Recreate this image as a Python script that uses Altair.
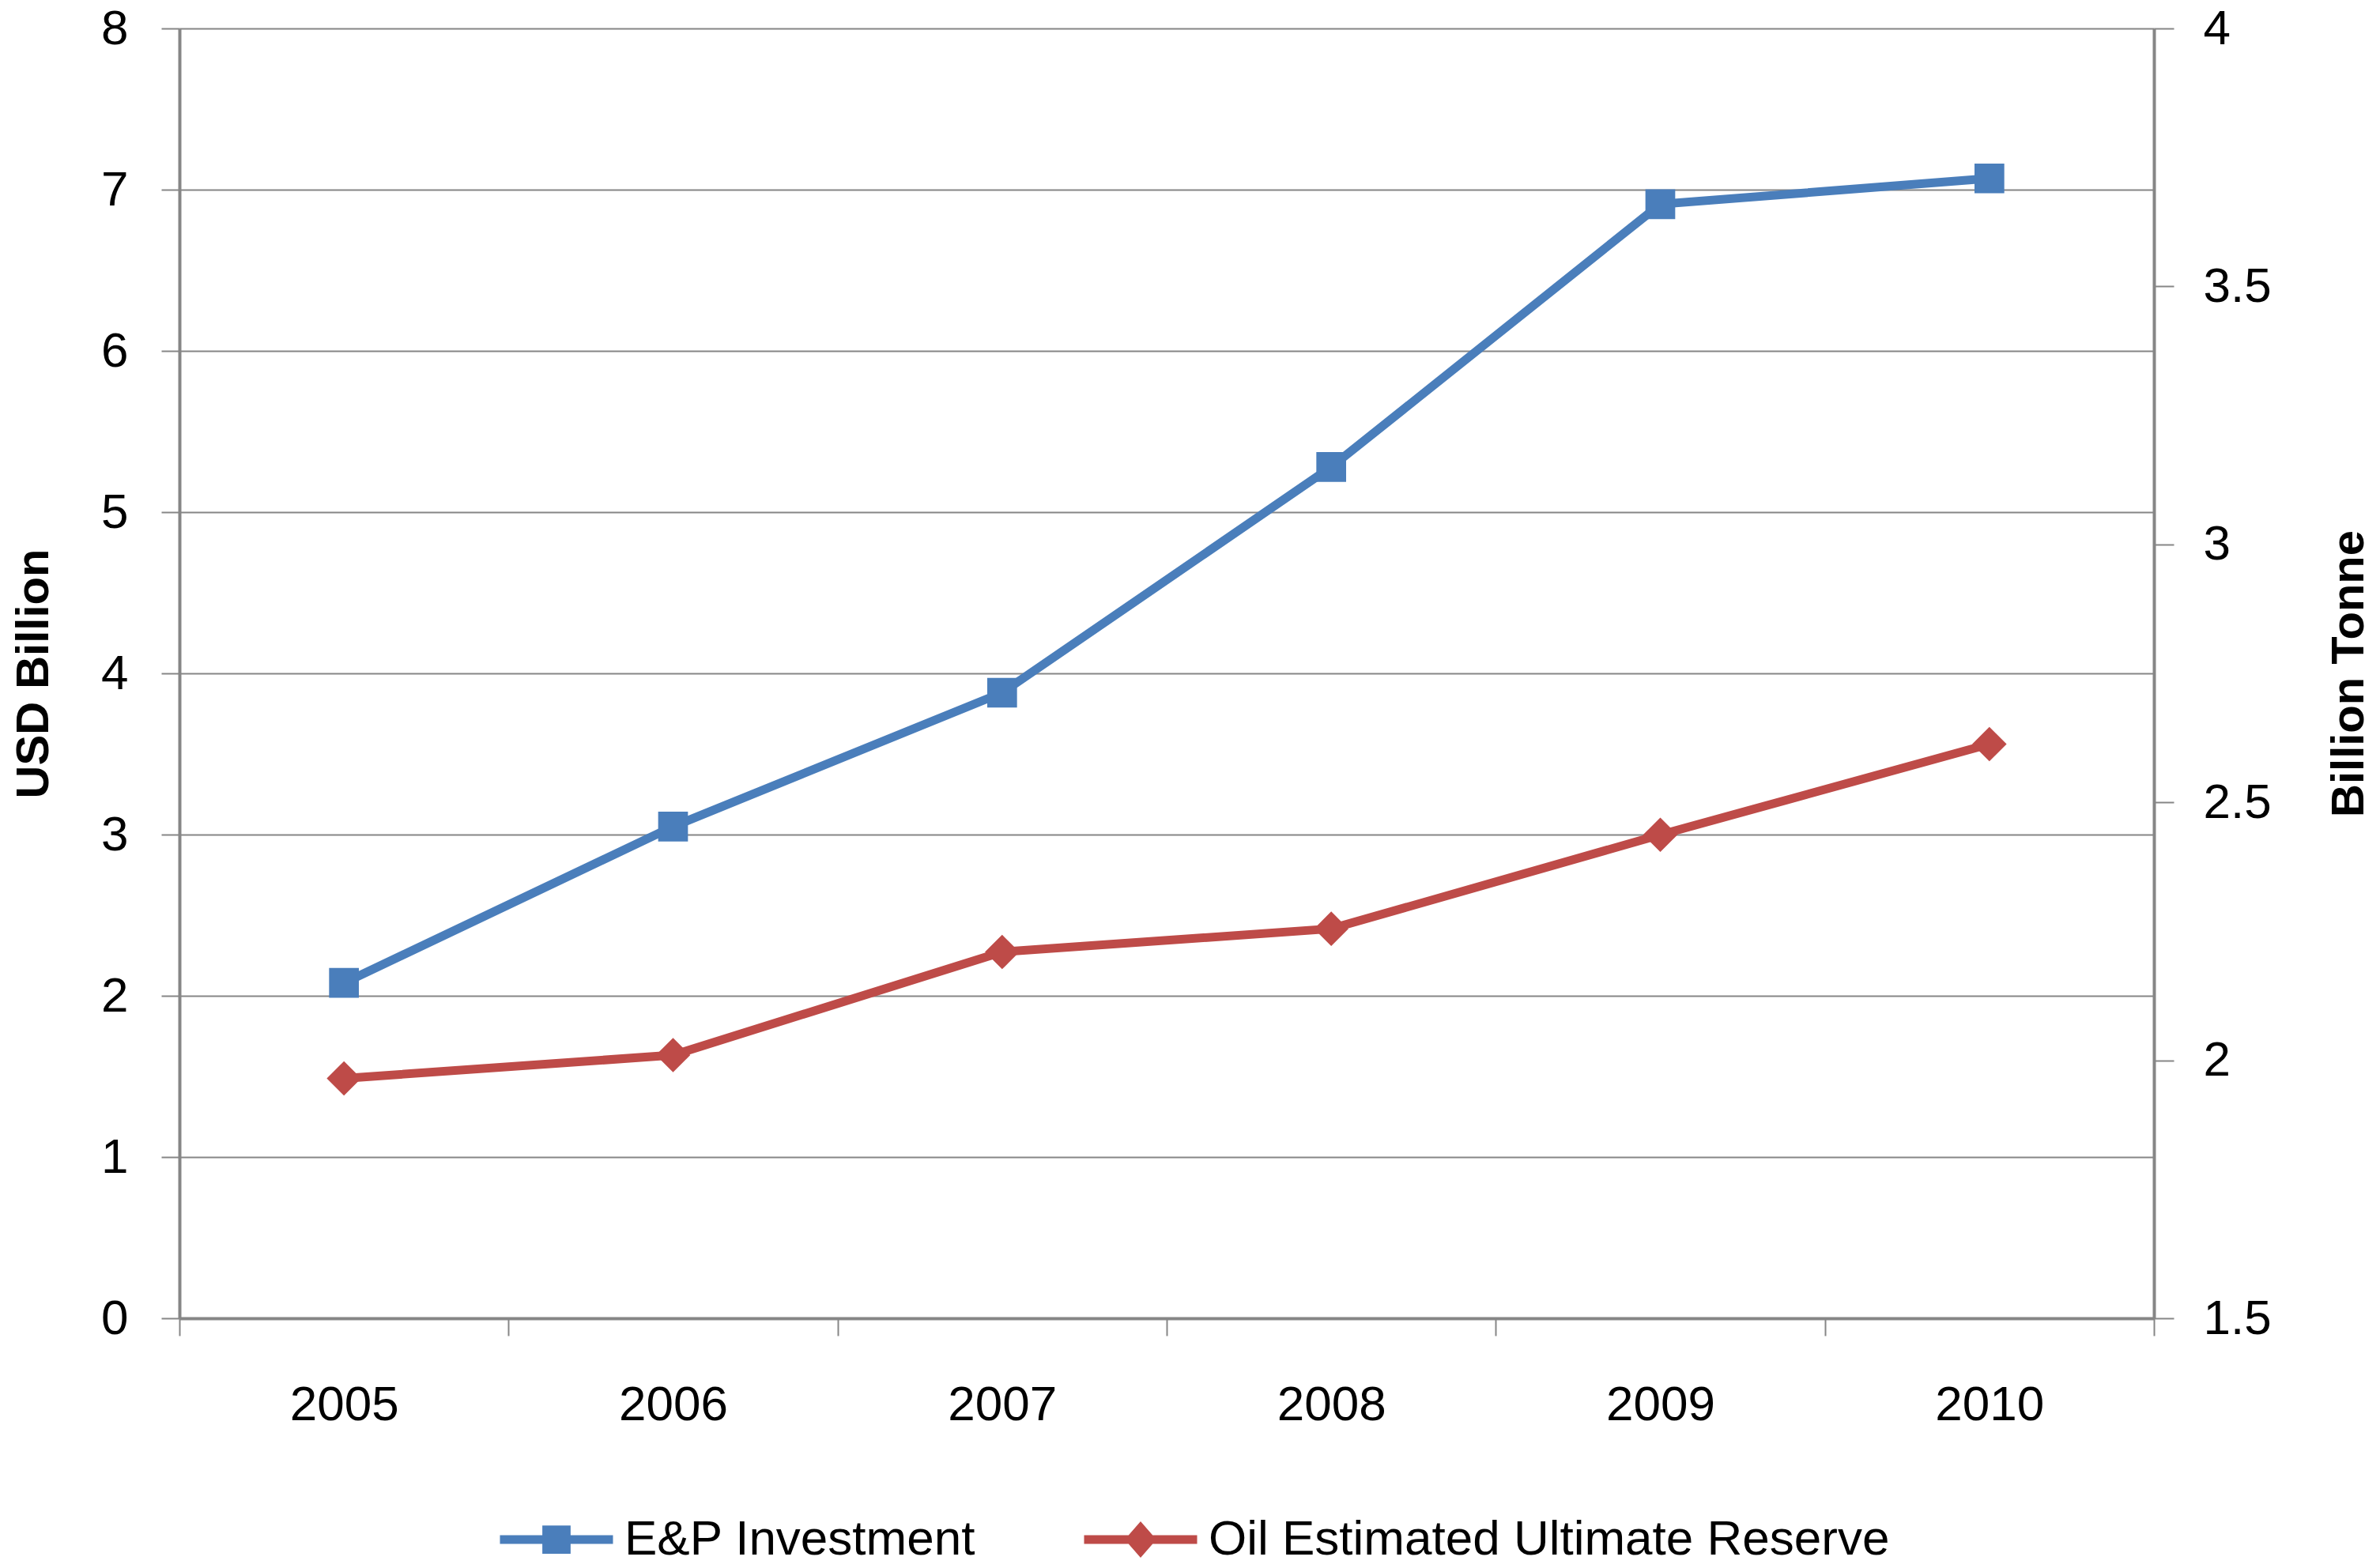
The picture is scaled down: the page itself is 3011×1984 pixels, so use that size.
import altair as alt
import pandas as pd

years = ["2005", "2006", "2007", "2008", "2009", "2010"]
investment = [2.08, 3.05, 3.88, 5.28, 6.91, 7.07]
reserve = [1.965, 2.01, 2.21, 2.255, 2.437, 2.613]
series = ["E&P Investment", "Oil Estimated Ultimate Reserve"]

left_ticks = [0, 1, 2, 3, 4, 5, 6, 7, 8]
right_ticks = [1.5, 2, 2.5, 3, 3.5, 4]

df = pd.DataFrame({"year": years, "investment": investment, "reserve": reserve})
legend_df = pd.DataFrame({"series": series})

BLUE = "#4A7EBB"
RED = "#BE4B48"
GRAY = "#868686"
FONT = "Liberation Sans"

blue_path = "M-1,-0.077H1V0.077H-1Z M-0.25,-0.25H0.25V0.25H-0.25Z"
red_path = "M-1,-0.077H1V0.077H-1Z M-0.28,0L0,-0.32L0.28,0L0,0.32Z"

x_enc = alt.X(
    "year:O",
    title=None,
    bandPosition=0.5,
    scale=alt.Scale(type="band", paddingInner=0, paddingOuter=0),
    axis=alt.Axis(
        tickBand="extent", labelAngle=0, tickSize=22, tickWidth=2, tickColor=GRAY,
        domainColor=GRAY, domainWidth=4, labelFontSize=62, labelPadding=57,
        labelFont=FONT, labelColor="black", grid=False,
    ),
)

blue = alt.Chart(df).mark_line(
    color=BLUE, strokeWidth=11,
    point=alt.OverlayMarkDef(shape="square", size=1420, filled=True, color=BLUE, opacity=1),
).encode(
    x=x_enc,
    y=alt.Y(
        "investment:Q",
        scale=alt.Scale(domain=[0, 8], nice=False),
        axis=alt.Axis(
            orient="left", values=left_ticks, grid=True, gridColor=GRAY, gridWidth=2,
            tickColor=GRAY, tickWidth=2, tickSize=23, domainColor=GRAY, domainWidth=4,
            labelFontSize=62, labelPadding=42, labelFont=FONT, labelColor="black",
            labelFlush=False, labelOverlap=False,
            title="USD Billion", titleFont=FONT, titleFontSize=58, titleFontWeight="bold",
            titleColor="black", titlePadding=55,
        ),
    ),
)

red = alt.Chart(df).mark_line(
    color=RED, strokeWidth=11,
    point=alt.OverlayMarkDef(shape="diamond", size=1900, filled=True, color=RED, opacity=1),
).encode(
    x=x_enc,
    y=alt.Y(
        "reserve:Q",
        scale=alt.Scale(domain=[1.5, 4], nice=False, zero=False),
        axis=alt.Axis(
            orient="right", values=right_ticks, grid=False,
            tickColor=GRAY, tickWidth=2, tickSize=25, domainColor=GRAY, domainWidth=4,
            labelFontSize=62, labelPadding=37, labelFont=FONT, labelColor="black",
            labelFlush=False, labelOverlap=False, labelExpr="'' + datum.value",
            title="Billion Tonne", titleFont=FONT, titleFontSize=58, titleFontWeight="bold",
            titleColor="black", titlePadding=70, titleAngle=270, titleBaseline="top",
        ),
    ),
)

leg = alt.Legend(
    title=None, orient="none", legendX=405, legendY=1840, direction="horizontal",
    symbolSize=20450, symbolStrokeWidth=0, symbolOpacity=1,
    labelFont=FONT, labelFontSize=62, labelColor="black", labelLimit=0,
    labelOffset=14, columnPadding=136, padding=0,
)

legend_layer = alt.Chart(legend_df).mark_point(filled=True, clip=True, opacity=1).encode(
    x=alt.value(-5000),
    y=alt.value(-5000),
    color=alt.Color("series:N", scale=alt.Scale(domain=series, range=[BLUE, RED]), legend=leg),
    shape=alt.Shape("series:N", scale=alt.Scale(domain=series, range=[blue_path, red_path]), legend=leg),
)

chart = (
    alt.layer(blue, red, legend_layer)
    .resolve_scale(y="independent")
    .properties(
        width=2498, height=1632,
        autosize=alt.AutoSizeParams(type="none"),
        padding={"left": 219, "top": 28, "right": 278, "bottom": 308},
        background="white",
    )
    .configure_view(stroke=None)
)

chart.save("out.html", embed_options={"renderer": "svg", "actions": False})
